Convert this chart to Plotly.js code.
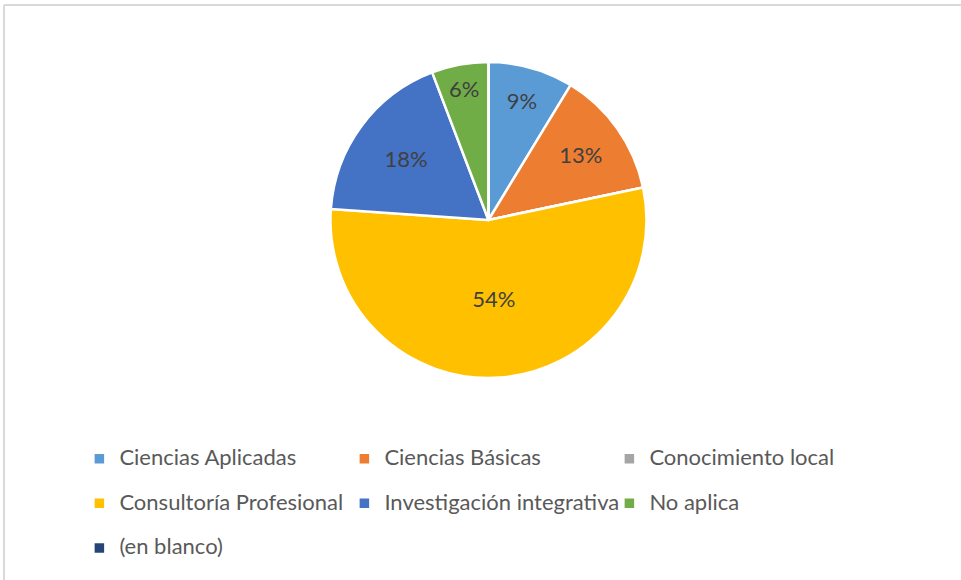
<!DOCTYPE html>
<html>
<head>
<meta charset="utf-8">
<script src="https://cdn.plot.ly/plotly-3.0.1.min.js"></script>
<style>html,body{margin:0;padding:0;background:#fff;}#chart{width:961px;height:580px;}</style>
</head>
<body>
<div id="chart"></div>
<script>
const categories = ["Ciencias Aplicadas", "Ciencias Básicas", "Conocimiento local", "Consultoría Profesional", "Investigación integrativa", "No aplica", "(en blanco)"];
const shares = [8.7, 13.0, 0, 54.4, 18.1, 5.8, 0];
const colors = ["#5B9BD5", "#ED7D31", "#A5A5A5", "#FFC000", "#4472C4", "#70AD47", "#264478"];

// legend rows: add a blank spacer line to every entry except those on the last row
const legendLabels = categories.map((c, i) =>
  "<span style='font-size:22px'>" + c + "</span>" + (i < 6 ? "<br> " : ""));

const trace = {
  type: "pie",
  labels: legendLabels,
  values: shares,
  sort: false,
  direction: "clockwise",
  rotation: 0,
  marker: { colors: colors, line: { color: "#ffffff", width: 2.5 } },
  texttemplate: "%{percent:.0%}",
  textposition: "inside",
  insidetextorientation: "horizontal",
  textfont: { family: "Lato, sans-serif", size: 22, color: "#404040" },
  hoverinfo: "skip",
  domain: { x: [0.3439, 0.6727], y: [0.3483, 0.8931] }
};

const layout = {
  width: 961, height: 580,
  margin: { l: 0, r: 0, t: 0, b: 0 },
  paper_bgcolor: "#ffffff",
  showlegend: true,
  legend: {
    orientation: "h",
    x: 0.0826, xanchor: "left",
    y: 0.2382, yanchor: "top",
    valign: "top",
    entrywidth: 220, entrywidthmode: "pixels",
    font: { family: "Lato, sans-serif", size: 16, color: "#595959" },
    traceorder: "normal"
  },
  shapes: [
    { type: "line", xref: "paper", yref: "paper", x0: 0.0042, x1: 1, y0: 0.9914, y1: 0.9914, line: { color: "#d9d9d9", width: 2 } },
    { type: "line", xref: "paper", yref: "paper", x0: 0.0042, x1: 0.0042, y0: 0, y1: 0.9914, line: { color: "#d9d9d9", width: 2 } }
  ]
};

Plotly.newPlot("chart", [trace], layout, { displayModeBar: false, staticPlot: true });
</script>
</body>
</html>
